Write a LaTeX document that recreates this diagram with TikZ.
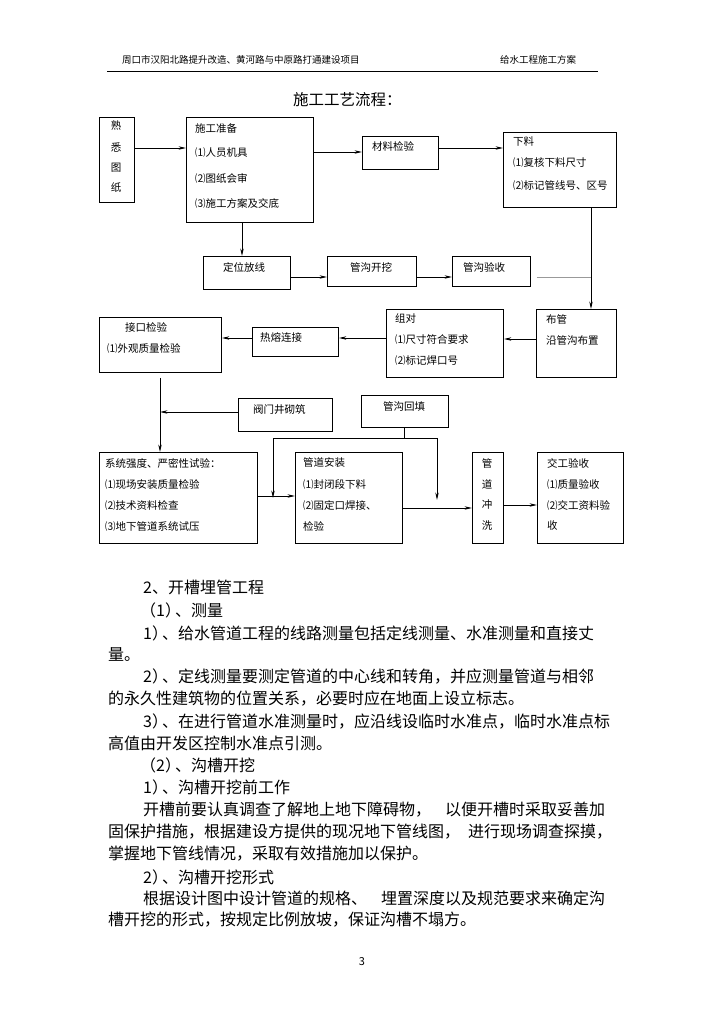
\documentclass[tikz,border=0pt]{standalone}
\usepackage{fontspec}
\setmainfont{Noto Sans CJK SC}
\usetikzlibrary{arrows.meta,calc}
\newcommand{\pdun}{）\kern-6pt、}
\begin{document}
\begin{tikzpicture}[x=1pt,y=-1pt,
  box/.style={draw=black,line width=0.9pt,inner sep=0pt,anchor=north west},
  lbl/.style={anchor=west,inner sep=0pt,font=\fontsize{10.5}{12}\selectfont},
  vch/.style={anchor=center,inner sep=0pt,font=\fontsize{10.5}{12}\selectfont},
  arr/.style={draw=black,line width=0.9pt,-{Stealth[length=7.5pt,width=3.4pt]}},
  ln/.style={draw=black,line width=0.9pt},
  grayln/.style={draw=black!40,line width=0.9pt},
  body/.style={anchor=west,inner sep=0pt,font=\fontsize{16}{18}\selectfont},
  hdr/.style={anchor=west,inner sep=0pt,font=\fontsize{9.5}{11}\selectfont}]
\useasboundingbox[fill=white] (0,0) rectangle (724,1024);

% header
\node[hdr] (h1) at (122,60) {周口市汉阳北路提升改造、黄河路与中原路打通建设项目};
\node[hdr] (h2) at (500,60) {给水工程施工方案};
\coordinate (ruleL) at (107,71);
\coordinate (ruleR) at (598,71);
\draw[line width=0.9pt] (ruleL) -- (ruleR);
\node[anchor=west,inner sep=0pt,font=\fontsize{15.5}{17}\selectfont] (title) at (293,100) {施工工艺流程：};

% boxes
\node[box,minimum width=35pt,minimum height=85pt] (shuxi) at (99,117) {};
\node[box,minimum width=127pt,minimum height=105pt] (zhunbei) at (186,117) {};
\node[box,minimum width=76pt,minimum height=33pt] (cailiao) at (362,136) {};
\node[box,minimum width=113pt,minimum height=75pt] (xialiao) at (503,132) {};
\node[box,minimum width=87pt,minimum height=33pt] (dingwei) at (203,256) {};
\node[box,minimum width=89pt,minimum height=30pt] (kaiwa) at (327,256) {};
\node[box,minimum width=78pt,minimum height=30pt] (yanshou) at (452,256) {};
\node[box,minimum width=80pt,minimum height=68pt] (buguan) at (536,309) {};
\node[box,minimum width=117pt,minimum height=68pt] (zudui) at (386,309) {};
\node[box,minimum width=86pt,minimum height=29pt] (rerong) at (252,327) {};
\node[box,minimum width=122pt,minimum height=55pt] (jiekou) at (99,317) {};
\node[box,minimum width=94pt,minimum height=33pt] (famen) at (238,398) {};
\node[box,minimum width=87pt,minimum height=32pt] (huitian) at (361,395) {};
\node[box,minimum width=158pt,minimum height=91pt] (xitong) at (99,452) {};
\node[box,minimum width=107pt,minimum height=91pt] (anzhuang) at (295,452) {};
\node[box,minimum width=31pt,minimum height=91pt] (chongxi) at (472,452) {};
\node[box,minimum width=86pt,minimum height=91pt] (jiaogong) at (537,452) {};

% box texts
\node[vch] (t1a) at (116,125) {熟};
\node[vch] (t1b) at (116,147) {悉};
\node[vch] (t1c) at (116,168) {图};
\node[vch] (t1d) at (116,188) {纸};
\node[lbl] (t2a) at (195,128) {施工准备};
\node[lbl] (t2b) at (195,153) {⑴人员机具};
\node[lbl] (t2c) at (195,178) {⑵图纸会审};
\node[lbl] (t2d) at (195,203) {⑶施工方案及交底};
\node[lbl] (t3) at (372,146) {材料检验};
\node[lbl] (t4a) at (513,142) {下料};
\node[lbl] (t4b) at (513,163) {⑴复核下料尺寸};
\node[lbl] (t4c) at (513,185) {⑵标记管线号、区号};
\node[lbl] (t5) at (223,267) {定位放线};
\node[lbl] (t6) at (350,267) {管沟开挖};
\node[lbl] (t7) at (463,267) {管沟验收};
\node[lbl] (t8a) at (546,319) {布管};
\node[lbl] (t8b) at (546,340) {沿管沟布置};
\node[lbl] (t9a) at (395,319) {组对};
\node[lbl] (t9b) at (395,340) {⑴尺寸符合要求};
\node[lbl] (t9c) at (395,361) {⑵标记焊口号};
\node[lbl] (t10) at (260,337) {热熔连接};
\node[lbl] (t11a) at (125,327) {接口检验};
\node[lbl] (t11b) at (107,348) {⑴外观质量检验};
\node[lbl] (t12) at (253,410) {阀门井砌筑};
\node[lbl] (t13) at (383,406) {管沟回填};
\node[lbl] (t14a) at (105,463) {系统强度、严密性试验：};
\node[lbl] (t14b) at (105,484) {⑴现场安装质量检验};
\node[lbl] (t14c) at (105,505) {⑵技术资料检查};
\node[lbl] (t14d) at (105,526) {⑶地下管道系统试压};
\node[lbl] (t15a) at (303,463) {管道安装};
\node[lbl] (t15b) at (303,484) {⑴封闭段下料};
\node[lbl] (t15c) at (303,505) {⑵固定口焊接、};
\node[lbl] (t15d) at (303,526) {检验};
\node[vch] (t16a) at (487,463) {管};
\node[vch] (t16b) at (487,484) {道};
\node[vch] (t16c) at (487,505) {冲};
\node[vch] (t16d) at (487,526) {洗};
\node[lbl] (t17a) at (547,463) {交工验收};
\node[lbl] (t17b) at (547,484) {⑴质量验收};
\node[lbl] (t17c) at (547,505) {⑵交工资料验};
\node[lbl] (t17d) at (547,526) {收};

% helper coordinates
\coordinate (r148) at (0,148);
\coordinate (r152) at (0,152);
\coordinate (r277) at (0,277);
\coordinate (r339) at (0,339);
\coordinate (r338) at (0,338);
\coordinate (r496) at (0,496);
\coordinate (r508) at (0,508);
\coordinate (r505) at (0,505);
\coordinate (c591) at (591,0);
\coordinate (c242) at (242,0);
\coordinate (c160) at (160,0);
\coordinate (c404) at (404,0);
\coordinate (jn) at (591,277);
\coordinate (fm) at (160,412);
\coordinate (hj) at (404,438);
\coordinate (hld) at (273,498);
\coordinate (hrd) at (437,500);

% connectors
\draw[arr] (shuxi.east |- r148) -- (zhunbei.west |- r148);
\draw[arr] (zhunbei.east |- r152) -- (cailiao.west |- r152);
\draw[arr] (cailiao.east |- r148) -- (xialiao.west |- r148);
\draw[arr] (xialiao.south -| c591) -- (buguan.north -| c591);
\draw[arr] (zhunbei.south -| c242) -- (dingwei.north -| c242);
\draw[arr] (dingwei.east |- r277) -- (kaiwa.west |- r277);
\draw[arr] (kaiwa.east |- r277) -- (yanshou.west |- r277);
\coordinate (g0) at ($(yanshou.east |- r277)+(6,0)$);
\draw[grayln] (g0) -- (jn);
\draw[arr] (buguan.west |- r339) -- (zudui.east |- r339);
\draw[arr] (zudui.west |- r338) -- (rerong.east |- r338);
\draw[arr] (rerong.west |- r338) -- (jiekou.east |- r338);
\coordinate (k0) at ($(jiekou.south -| c160)+(0,5)$);
\draw[arr] (k0) -- (xitong.north -| c160);
\draw[arr] (famen.west |- fm) -- (fm);
\draw[ln] (huitian.south -| c404) -- (hj);
\draw[arr] (hj) -| (hld);
\draw[arr] (hj) -| (hrd);
\draw[arr] (xitong.east |- r496) -- (anzhuang.west |- r496);
\draw[arr] (anzhuang.east |- r508) -- (chongxi.west |- r508);
\draw[arr] (chongxi.east |- r505) -- (jiaogong.west |- r505);

% body text
\node[body] (b1) at (143,587) {2、开槽埋管工程};
\node[body] (b2) at (140,610) {（1\pdun 测量};
\node[body] (b3) at (143,633) {1\pdun 给水管道工程的线路测量包括定线测量、水准测量和直接丈};
\node[body] (b4) at (108,655) {量。};
\node[body] (b5) at (143,677) {2\pdun 定线测量要测定管道的中心线和转角，并应测量管道与相邻};
\node[body] (b6) at (108,699) {的永久性建筑物的位置关系，必要时应在地面上设立标志。};
\node[body] (b7) at (143,721) {3\pdun 在进行管道水准测量时，应沿线设临时水准点，临时水准点标};
\node[body] (b8) at (108,743) {高值由开发区控制水准点引测。};
\node[body] (b9) at (140,765) {（2\pdun 沟槽开挖};
\node[body] (b10) at (143,787) {1\pdun 沟槽开挖前工作};
\node[body] (b11) at (143,810) {开槽前要认真调查了解地上地下障碍物，\hspace{14pt}以便开槽时采取妥善加};
\node[body] (b12) at (108,832) {固保护措施，根据建设方提供的现况地下管线图，\hspace{8pt}进行现场调查探摸，};
\node[body] (b13) at (108,854) {掌握地下管线情况，采取有效措施加以保护。};
\node[body] (b14) at (143,877) {2\pdun 沟槽开挖形式};
\node[body] (b15) at (143,898) {根据设计图中设计管道的规格、\hspace{14pt}埋置深度以及规范要求来确定沟};
\node[body] (b16) at (108,920) {槽开挖的形式，按规定比例放坡，保证沟槽不塌方。};

\node[anchor=center,inner sep=0pt,font=\fontsize{11}{13}\selectfont] (pg) at (362,962) {3};
\end{tikzpicture}
\end{document}
